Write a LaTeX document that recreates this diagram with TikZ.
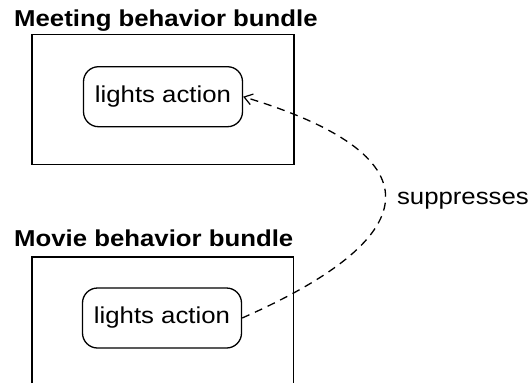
\documentclass[tikz,border=0pt]{standalone}
\usepackage{fontspec}
\setmainfont[FakeStretch=1.12]{Liberation Sans}
\usetikzlibrary{arrows.meta}
\begin{document}
\begin{tikzpicture}[x=1pt,y=-1pt,
  every node/.style={font=\fontsize{23}{27}\selectfont},
  title/.style={anchor=base west,inner sep=0pt,font=\fontsize{23}{27}\selectfont\bfseries},
  bundle/.style={draw,line width=1.5pt,minimum width=262pt,minimum height=130pt,inner sep=0pt},
  action/.style={draw,line width=1.3pt,rounded corners=15pt,minimum width=159pt,minimum height=60pt,inner sep=0pt},
  link/.style={dashed,dash pattern=on 8pt off 6pt,line width=1.3pt,-{Straight Barb[length=8pt,width=11pt,line width=1.2pt]}}
]
\useasboundingbox (0,0) rectangle (532,383);
\node[title] (t1) at (14,26) {Meeting behavior bundle};
\node[bundle] (meet) at (163,99.5) {};
\node[action] (a1) at (163,96.7) {lights action};

\node[title] (t2) at (14,246) {Movie behavior bundle};
\coordinate (bl) at (32,383);
\coordinate (tl) at (32,257);
\coordinate (tr) at (293.5,257);
\coordinate (br) at (293.5,383);
\draw[line width=1.5pt] (bl) -- (tl) -- (tr) -- (br);
\node[action] (a2) at (162,318) {lights action};

\draw[link] (a2.east) .. controls (433,234) and (433,154) .. (a1.east)
  node[pos=0.5,anchor=base west,inner sep=0pt,xshift=11pt,yshift=-7pt] (lab) {suppresses};
\end{tikzpicture}
\end{document}
